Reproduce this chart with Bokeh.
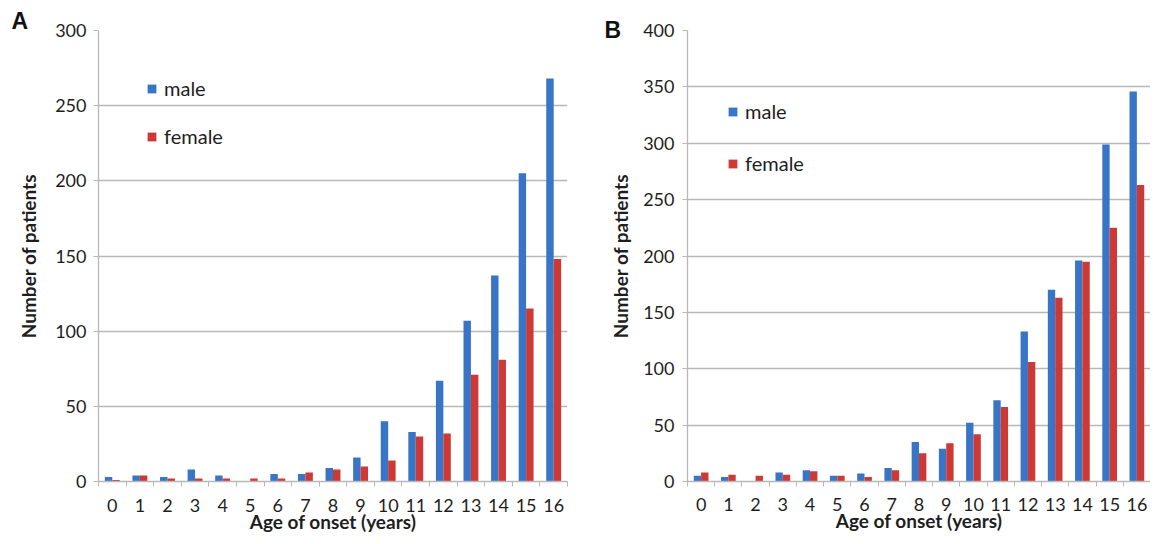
from bokeh.plotting import figure
from bokeh.models import (ColumnDataSource, FixedTicker, Legend, LegendItem,
                          Range1d)
from bokeh.transform import dodge
from bokeh.layouts import row
from bokeh.embed import file_html
from bokeh.resources import INLINE

# ---------------- data ----------------
ages = [0, 1, 2, 3, 4, 5, 6, 7, 8, 9, 10, 11, 12, 13, 14, 15, 16]
male_a = [3, 4, 3, 8, 4, 0, 5, 5, 9, 16, 40, 33, 67, 107, 137, 205, 268]
female_a = [1, 4, 2, 2, 2, 2, 2, 6, 8, 10, 14, 30, 32, 71, 81, 115, 148]
male_b = [5, 4, 0, 8, 10, 5, 7, 12, 35, 29, 52, 72, 133, 170, 196, 299, 346]
female_b = [8, 6, 5, 6, 9, 5, 4, 10, 25, 34, 42, 66, 106, 163, 195, 225, 263]
y_ticks_a = [0, 50, 100, 150, 200, 250, 300]
y_ticks_b = [0, 50, 100, 150, 200, 250, 300, 350, 400]
series_names = ["male", "female"]
x_title = "Age of onset (years)"
y_title = "Number of patients"

BLUE = "#3875c6"
RED = "#cd3935"
GRID = "#b8b8b8"
TEXT = "#1e1e1e"
FONT = "Lato"


def panel(letter, male, female, yticks, width, height, bl, br, bt, bb,
          leg_loc, leg_spacing, letter_offset, letter_standoff,
          ylab_standoff, ytick_standoff, xtick_standoff):
    src = ColumnDataSource(dict(age=ages, male=male, female=female))
    p = figure(width=width, height=height, output_backend="svg",
               toolbar_location=None, min_border_left=bl, min_border_right=br,
               min_border_top=bt, min_border_bottom=bb,
               x_range=Range1d(ages[0] - 0.5, ages[-1] + 0.5),
               y_range=Range1d(yticks[0], yticks[-1]))
    p.title.text = letter
    p.title.align = "left"
    p.title.offset = letter_offset
    p.title.standoff = letter_standoff
    p.title.text_font = "Liberation Sans"
    p.title.text_font_style = "bold"
    p.title.text_font_size = "23px"
    p.title.text_color = "#111111"

    r1 = p.vbar(x=dodge("age", -0.135, range=p.x_range), top="male", width=0.27,
                source=src, fill_color=BLUE, line_color=None)
    r2 = p.vbar(x=dodge("age", 0.135, range=p.x_range), top="female", width=0.27,
                source=src, fill_color=RED, line_color=None)
    p.outline_line_color = None
    p.xgrid.visible = False
    p.ygrid.grid_line_color = GRID
    p.ygrid.grid_line_width = 1.3
    p.background_fill_color = "white"

    xa = p.xaxis[0]
    xa.ticker = FixedTicker(ticks=ages,
                            minor_ticks=[a - 0.5 for a in ages] + [ages[-1] + 0.5])
    xa.major_tick_out = 0
    xa.major_tick_in = 0
    xa.minor_tick_out = 5
    xa.minor_tick_in = 0
    xa.minor_tick_line_color = GRID
    xa.axis_line_color = GRID
    xa.axis_line_width = 1.3
    xa.major_label_text_font = FONT
    xa.major_label_text_font_size = "18px"
    xa.major_label_text_color = TEXT
    xa.major_label_standoff = xtick_standoff
    xa.axis_label = x_title
    xa.axis_label_text_font = FONT
    xa.axis_label_text_font_style = "bold"
    xa.axis_label_text_font_size = "19px"
    xa.axis_label_text_color = TEXT
    xa.axis_label_standoff = -5

    ya = p.yaxis[0]
    ya.ticker = FixedTicker(ticks=yticks)
    ya.major_tick_out = 5
    ya.major_tick_in = 0
    ya.minor_tick_out = 0
    ya.minor_tick_in = 0
    ya.major_tick_line_color = GRID
    ya.axis_line_color = GRID
    ya.axis_line_width = 1.3
    ya.major_label_text_font = FONT
    ya.major_label_text_font_size = "18px"
    ya.major_label_text_color = TEXT
    ya.major_label_standoff = ytick_standoff
    ya.axis_label = y_title
    ya.axis_label_text_font = FONT
    ya.axis_label_text_font_style = "bold"
    ya.axis_label_text_font_size = "19px"
    ya.axis_label_text_color = TEXT
    ya.axis_label_standoff = ylab_standoff

    legend = Legend(items=[LegendItem(label=series_names[0], renderers=[r1]),
                           LegendItem(label=series_names[1], renderers=[r2])],
                    location=leg_loc, padding=0, margin=0, spacing=leg_spacing,
                    glyph_width=11, glyph_height=11, label_height=24,
                    label_standoff=7, border_line_color=None,
                    background_fill_alpha=0,
                    label_text_font=FONT, label_text_font_size="20px",
                    label_text_color=TEXT)
    p.add_layout(legend)
    return p


pa = panel("A", male_a, female_a, y_ticks_a, width=587, height=544,
           bl=98, br=20, bt=30, bb=60, leg_loc=(48, 333), leg_spacing=24,
           letter_offset=-87, letter_standoff=-6, ylab_standoff=12, ytick_standoff=7,
           xtick_standoff=12)
pb = panel("B", male_b, female_b, y_ticks_b, width=563, height=544,
           bl=100, br=0, bt=25, bb=63, leg_loc=(40, 306), leg_spacing=28,
           letter_offset=-83, letter_standoff=-24, ylab_standoff=8, ytick_standoff=8,
           xtick_standoff=11)

layout = row(pa, pb)
open("out.html", "w").write(file_html(layout, INLINE))
